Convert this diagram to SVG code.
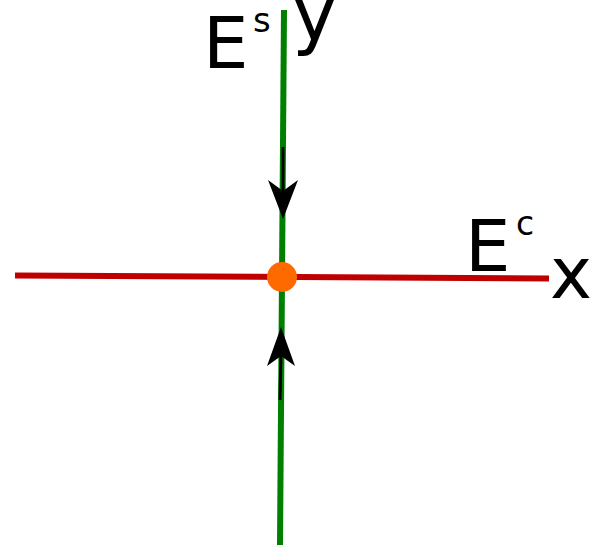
<svg xmlns="http://www.w3.org/2000/svg" width="597" height="547" viewBox="0 0 597 547">
<style>
.lbl{font-family:"DejaVu Sans",sans-serif;fill:#000}
.ax{fill:none;stroke-width:6}
.arr{fill:none;stroke:#000;stroke-width:3}
.head{fill:#000}
</style>
<rect width="597" height="547" fill="#fff"/>
<g id="connectors">
<line id="x-axis" class="ax" x1="15" y1="275.5" x2="549" y2="278.5" stroke="#bf0000"/>
<line id="y-axis" class="ax" x1="284" y1="10" x2="280" y2="545" stroke="#008000"/>
<line class="arr" x1="283" y1="147" x2="283" y2="195"/>
<path class="head" d="M283,219 L268,180 L283,191 L298,180 Z"/>
<line class="arr" x1="280" y1="400" x2="281" y2="352"/>
<path class="head" d="M281,327 L267,366 L281,356 L295,366 Z"/>
</g>
<g id="origin">
<circle cx="282" cy="277" r="15" fill="#ff6a00"/>
</g>
<g id="label-Es">
<text class="lbl" x="203" y="68" font-size="72">E</text>
<text class="lbl" x="253" y="32" font-size="34">s</text>
</g>
<g id="label-y">
<text class="lbl" x="292" y="40" font-size="76">y</text>
</g>
<g id="label-Ec">
<text class="lbl" x="465" y="271" font-size="72">E</text>
<text class="lbl" x="516" y="235" font-size="33">c</text>
</g>
<g id="label-x">
<text class="lbl" x="550" y="298" font-size="71">x</text>
</g>
</svg>
